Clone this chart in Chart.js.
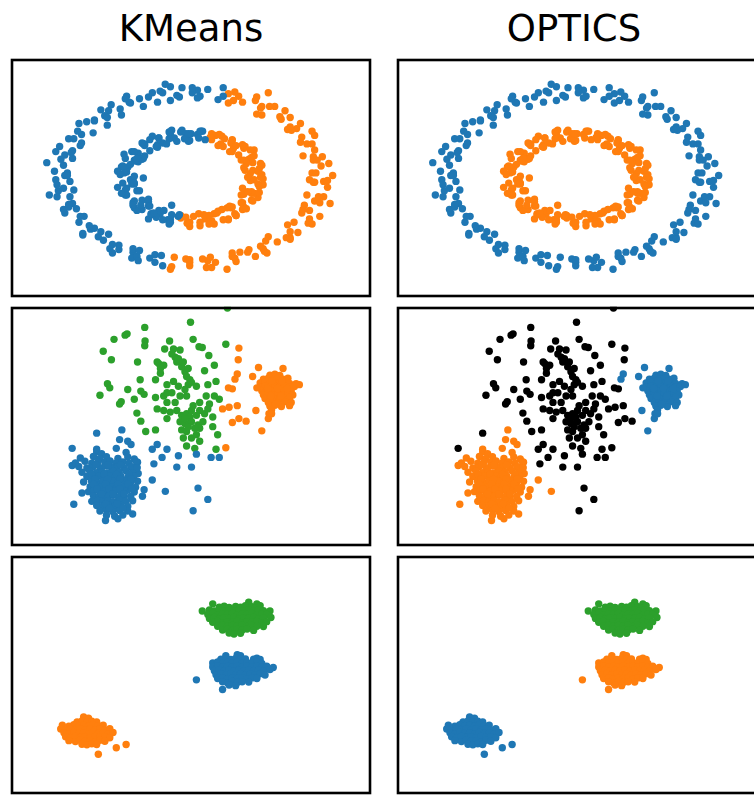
<!DOCTYPE html>
<html>
<head>
<meta charset="utf-8">
<script src="https://cdn.jsdelivr.net/npm/chart.js@4.4.1/dist/chart.umd.min.js"></script>
<style>
  html, body { margin: 0; padding: 0; background: #fff; overflow: hidden; width: 754px; height: 795px; }
  .title { position: absolute; top: 10px; width: 368px; text-align: center;
           font-family: "DejaVu Sans", sans-serif; font-size: 37px; line-height: 37px; color: #000; }
  canvas { position: absolute; }
</style>
</head>
<body>
<div class="title" style="left:7px">KMeans</div>
<div class="title" style="left:390px">OPTICS</div>
<script>
// ---- noisy circles (flat x,y pairs) ----
const ringOuterLeft = [
  0.25,1.06, 0.25,0.96, 0.13,1.04, 0.21,0.92, 0.07,0.96, 0.05,1.03,
  -0.07,1.06, 0.01,1.00, -0.09,0.95, -0.16,1.07, -0.11,0.97, -0.30,1.00, -0.24,1.02, -0.26,0.89,
  -0.40,0.93, -0.37,0.84, -0.33,0.95, -0.50,0.96, -0.47,0.88, -0.55,0.81, -0.62,0.86, -0.54,0.74,
  -0.64,0.79, -0.70,0.80, -0.65,0.62, -0.81,0.66, -0.75,0.67, -0.75,0.68, -0.85,0.51, -0.76,0.53,
  -0.88,0.55, -0.95,0.46, -0.86,0.38, -0.91,0.46, -0.98,0.27, -0.92,0.32, -1.05,0.31, -0.92,0.23,
  -0.99,0.15, -1.01,0.22, -0.96,0.06, -1.05,-0.02,
  -0.98,0.03, -0.96,0.03, -1.03,-0.15, -0.91,-0.14, -0.99,-0.12, -1.04,-0.22, -0.92,-0.30, -0.94,-0.22,
  -0.98,-0.41, -0.89,-0.36, -0.99,-0.37, -0.83,-0.45, -0.87,-0.52, -0.86,-0.45, -0.78,-0.60, -0.84,-0.67,
  -0.70,-0.63, -0.75,-0.59, -0.68,-0.73, -0.72,-0.69, -0.56,-0.84, -0.63,-0.83, -0.56,-0.79, -0.61,-0.78,
  -0.45,-0.87, -0.46,-0.94, -0.45,-0.83, -0.32,-0.94, -0.42,-0.92, -0.28,-0.90, -0.22,-1.03, -0.28,-0.99,
  0.05,0.94, 0.01,1.06, -0.16,0.91, -0.22,1.00, -0.48,0.89, -0.51,0.93, -0.67,0.73, -0.65,0.71,
  -0.87,0.64, -0.85,0.41, -1.02,0.37, -0.93,0.30, -1.06,0.08, -0.94,-0.04, -1.04,-0.08, -0.95,-0.34,
  -0.95,-0.31, -0.79,-0.56, -0.84,-0.65, -0.64,-0.66, -0.61,-0.88, -0.40,-0.85, -0.41,-0.97, -0.23,-0.91,
  -1.12,0.18, -1.10,-0.20, -0.20,1.10
];
const ringOuterRight = [
  1.03,-0.04, 0.94,0.06, 1.01,0.14, 0.97,0.06, 1.07,0.17, 0.95,0.25, 1.02,0.25, 0.87,0.26,
  0.94,0.40, 0.96,0.33, 0.90,0.40, 0.96,0.50, 0.82,0.58, 0.86,0.48, 0.78,0.56, 0.85,0.64,
  0.70,0.69, 0.77,0.60, 0.69,0.72, 0.77,0.71, 0.65,0.84, 0.55,0.74, 0.61,0.84, 0.51,0.75,
  0.50,0.91, 0.51,0.95, 0.33,0.91, 0.40,0.89, 0.29,0.88, 0.37,0.96,
  -0.16,-1.07, -0.04,-0.95, -0.13,-0.93, -0.01,-0.99, -0.01,-1.03, -0.01,-0.96, 0.16,-1.05, 0.13,-0.97,
  0.15,-0.93, 0.28,-1.07, 0.19,-0.99, 0.32,-0.92, 0.38,-0.87, 0.35,-0.98, 0.50,-0.92, 0.45,-0.84,
  0.44,-0.87, 0.59,-0.88, 0.58,-0.74, 0.57,-0.86, 0.67,-0.75, 0.60,-0.69, 0.77,-0.70, 0.74,-0.70,
  0.75,-0.55, 0.83,-0.64, 0.77,-0.63, 0.91,-0.53, 0.86,-0.41, 0.92,-0.48, 0.87,-0.37, 1.00,-0.45,
  0.92,-0.38, 0.96,-0.27, 0.90,-0.20, 1.03,-0.22, 0.99,-0.22, 0.96,-0.05, 1.06,-0.11, 0.92,-0.02,
  1.06,-0.03, 0.95,0.21, 0.98,0.21, 0.85,0.42, 0.94,0.55, 0.75,0.57, 0.73,0.79, 0.54,0.82,
  0.55,0.84, 0.34,1.01, 0.29,0.99, -0.15,-1.04, 0.09,-0.95, 0.12,-1.05, 0.32,-0.88, 0.34,-0.94,
  0.54,-0.80, 0.56,-0.83, 0.77,-0.72, 0.80,-0.52, 0.94,-0.54, 0.88,-0.32, 1.00,-0.29, 0.95,-0.05,
  1.10,0.03, 1.08,-0.30, 0.60,1.00
];
const ringInnerLeft = [
  0.11,0.45, 0.09,0.55, 0.00,0.52, 0.08,0.55, -0.01,0.44,
  0.05,0.51, -0.08,0.54, -0.02,0.43, -0.07,0.56, -0.13,0.47, -0.04,0.52, -0.15,0.56, -0.11,0.43,
  -0.25,0.47, -0.16,0.51, -0.22,0.41, -0.17,0.46, -0.30,0.49, -0.26,0.39, -0.36,0.40, -0.25,0.47,
  -0.32,0.32, -0.37,0.40, -0.27,0.37, -0.41,0.29, -0.36,0.38, -0.46,0.31, -0.38,0.22, -0.44,0.31,
  -0.37,0.23, -0.52,0.28, -0.44,0.21, -0.49,0.13, -0.43,0.20, -0.54,0.13, -0.41,0.19, -0.50,0.07,
  -0.47,0.16, -0.57,0.08, -0.45,-0.01, -0.52,0.06,
  -0.47,-0.02, -0.55,0.04, -0.44,-0.07, -0.51,-0.14, -0.45,-0.04, -0.57,-0.11, -0.46,-0.07, -0.51,-0.20,
  -0.40,-0.15, -0.50,-0.12, -0.44,-0.27, -0.50,-0.20, -0.38,-0.26, -0.44,-0.35, -0.33,-0.25, -0.45,-0.29,
  -0.38,-0.37, -0.33,-0.28, -0.42,-0.38, -0.31,-0.43, -0.33,-0.33, -0.24,-0.42, -0.33,-0.48, -0.25,-0.38,
  -0.31,-0.42, -0.18,-0.49, -0.21,-0.38, -0.22,-0.49, -0.10,-0.45, -0.17,-0.54, -0.09,-0.43, -0.16,-0.49,
  0.06,0.47, 0.07,0.55, -0.05,0.46, -0.02,0.52, -0.17,0.54, -0.19,0.40, -0.32,0.45, -0.26,0.36,
  -0.38,0.41, -0.36,0.26, -0.51,0.23, -0.42,0.23, -0.53,0.14, -0.44,0.02, -0.53,-0.06, -0.44,-0.06,
  -0.54,-0.18, -0.42,-0.15, -0.45,-0.32, -0.32,-0.33, -0.39,-0.32, -0.27,-0.46, -0.29,-0.41, -0.16,-0.52,
  -0.15,-0.43, -0.37,0.00, -0.15,-0.32
];
const ringInnerRight = [
  0.46,0.05, 0.56,-0.01, 0.49,-0.02, 0.53,0.11, 0.42,0.09, 0.54,0.17, 0.48,0.09, 0.45,0.22,
  0.55,0.15, 0.41,0.12, 0.47,0.24, 0.48,0.18, 0.37,0.27, 0.49,0.33, 0.39,0.21, 0.41,0.35,
  0.30,0.31, 0.42,0.37, 0.32,0.31, 0.40,0.39, 0.32,0.45, 0.25,0.37, 0.33,0.35, 0.26,0.46,
  0.32,0.44, 0.19,0.50, 0.23,0.40, 0.24,0.49, 0.16,0.52, 0.16,0.45, 0.15,0.48,
  -0.03,-0.53, -0.08,-0.44, -0.01,-0.57, -0.08,-0.47, 0.02,-0.45, -0.02,-0.53, 0.11,-0.48, 0.07,-0.56,
  0.06,-0.42, 0.16,-0.50, 0.07,-0.52, 0.18,-0.42, 0.18,-0.54, 0.14,-0.44, 0.29,-0.48, 0.21,-0.39,
  0.29,-0.49, 0.20,-0.41, 0.31,-0.35, 0.35,-0.44, 0.28,-0.35, 0.40,-0.37, 0.34,-0.42, 0.40,-0.29,
  0.32,-0.34, 0.47,-0.26, 0.41,-0.34, 0.39,-0.20, 0.48,-0.27, 0.39,-0.29, 0.47,-0.18, 0.52,-0.23,
  0.40,-0.12, 0.49,-0.18, 0.52,-0.07, 0.47,-0.16, 0.56,-0.08, 0.46,-0.03, 0.53,-0.10, 0.44,0.01,
  0.52,0.08, 0.55,0.04, 0.43,0.17, 0.49,0.26, 0.41,0.21, 0.46,0.33, 0.31,0.41, 0.35,0.38,
  0.21,0.38, 0.22,0.51, -0.01,-0.52, -0.04,-0.46, 0.14,-0.54, 0.10,-0.43, 0.25,-0.49, 0.24,-0.37,
  0.35,-0.44, 0.30,-0.33, 0.43,-0.36, 0.41,-0.19, 0.53,-0.17, 0.44,-0.16, 0.54,0.01
];

// ---- blobs of varied spread ----
const blobsWide = [
  1.15,3.67, 0.02,3.23, -1.38,3.07, -1.98,2.83, -1.92,2.87, -2.32,2.70, -1.37,2.65, -1.38,2.50,
  -0.62,2.65, 0.10,2.70, 0.28,2.47, 0.38,2.45, -2.65,2.33, -0.77,2.40, -0.50,2.40, -0.30,2.37,
  0.58,2.20, 1.10,2.55, -2.40,2.07, -1.60,2.00, -0.95,1.95, -0.80,1.90, -0.90,1.80, -0.45,2.15,
  -0.40,2.00, -0.25,1.85, -0.15,1.70, -0.10,1.55, 0.45,1.73, 0.75,1.90, -1.52,1.45, -1.05,1.45,
  -0.70,1.30, -0.50,1.40, -0.35,1.25, -0.05,1.30, 0.05,1.37, 0.20,1.25, 0.55,1.30, 0.80,1.40,
  -2.52,1.33, -2.45,1.20, -1.90,1.15, -1.50,1.10, -1.40,1.00, -2.75,0.97, -2.10,0.77, -2.15,0.70,
  -1.70,0.85, -1.05,0.90, -0.80,0.95, -0.70,0.75, -0.55,1.05, -0.10,0.95, 0.10,0.65, 0.30,0.75,
  0.60,0.70, 0.75,0.95, 0.90,0.85, -1.00,0.55, -0.80,0.50, -0.60,0.45, -0.40,0.50, -0.25,0.35,
  -0.10,0.40, 0.00,0.30, 0.20,0.35, 0.45,0.40, 0.55,0.55, -1.62,0.42, -1.50,0.17, -0.70,0.25,
  -0.30,0.15, -0.15,0.10, 0.05,0.15, 0.25,0.05, 0.70,0.00, -1.35,-0.15, -1.05,-0.10, -0.25,-0.10,
  -0.10,-0.15, 0.30,-0.05, 0.85,-0.25, -0.20,-0.35, 0.05,-0.35, 0.30,-0.45, -0.10,-0.60, 0.15,-0.67,
  0.80,-0.70, -0.55,2.25, -0.35,2.10, -0.20,2.00, -0.05,1.80, 0.00,1.45, -0.15,1.15, -0.30,0.95,
  0.05,0.50, 0.30,0.50, -0.15,0.25, 0.15,-0.05, -0.05,0.00, 0.50,0.95, -1.00,2.00, -0.90,1.65,
  -0.70,1.05, -0.45,0.75, 0.40,0.15, 0.70,0.30, 0.20,-0.25
];
const blobsDenseFringe = [
  -1.15,-0.70, -1.00,-0.55, -0.70,-0.70, -0.85,-0.95, -1.10,-1.15, -0.35,-0.90, -0.40,-1.25, 0.05,-1.25,
  0.20,-0.85, 0.25,-1.90, 0.55,-2.25, 0.10,-2.60, 0.65,-0.95, 0.90,-0.95, -2.85,-0.20, -3.60,-0.67
];
const blobsDenseCore = [
  -2.08,-0.10, -2.15,-0.40, -1.90,-0.45, -1.80,-0.55, -2.25,-0.67, -2.85,-0.70, -3.55,-2.40, -3.30,-2.05,
  -2.58,-2.90, -2.20,-2.85, -1.75,-2.70, -1.40,-1.95, -1.45,-2.15, -1.60,-1.10, -1.15,-1.65, -0.75,-2.00,
  -3.60,-1.20, -1.65,-1.25, -1.58,-1.45,
  -2.85,-0.78, -2.70,-0.84, -1.95,-0.80,
  -3.35,-0.97, -2.95,-0.92, -2.76,-0.99, -2.55,-0.93, -2.20,-0.98, -1.90,-0.94, -1.70,-1.00,
  -3.50,-1.12, -3.21,-1.07, -3.00,-1.13, -2.81,-1.08, -2.60,-1.11, -2.44,-1.06, -2.26,-1.12, -2.05,-1.09,
  -1.86,-1.13, -1.64,-1.08,
  -3.40,-1.23, -3.15,-1.28, -2.96,-1.24, -2.74,-1.27, -2.56,-1.22, -2.40,-1.26, -2.21,-1.23, -2.01,-1.28,
  -1.80,-1.24, -1.61,-1.27,
  -3.30,-1.41, -3.06,-1.38, -2.86,-1.42, -2.69,-1.39, -2.51,-1.43, -2.34,-1.38, -2.16,-1.41, -1.95,-1.37,
  -1.76,-1.42,
  -3.15,-1.54, -2.96,-1.57, -2.79,-1.53, -2.61,-1.56, -2.45,-1.52, -2.29,-1.57, -2.11,-1.54, -1.90,-1.58,
  -1.71,-1.53,
  -3.25,-1.71, -3.01,-1.68, -2.84,-1.72, -2.66,-1.69, -2.50,-1.73, -2.34,-1.68, -2.19,-1.71, -2.01,-1.67,
  -1.81,-1.72, -1.60,-1.69,
  -3.05,-1.86, -2.89,-1.83, -2.71,-1.87, -2.55,-1.84, -2.39,-1.88, -2.24,-1.83, -2.06,-1.86, -1.86,-1.82,
  -1.66,-1.87,
  -3.10,-2.01, -2.94,-1.98, -2.76,-2.02, -2.60,-1.99, -2.44,-2.03, -2.29,-1.98, -2.11,-2.01, -1.91,-1.97,
  -1.70,-2.02,
  -2.95,-2.14, -2.79,-2.17, -2.64,-2.13, -2.49,-2.16, -2.35,-2.12, -2.19,-2.17, -2.01,-2.14, -1.81,-2.16,
  -3.00,-2.31, -2.81,-2.28, -2.65,-2.32, -2.50,-2.29, -2.34,-2.33, -2.15,-2.28, -1.96,-2.31, -1.75,-2.29,
  -2.85,-2.44, -2.66,-2.47, -2.49,-2.43, -2.30,-2.46, -2.11,-2.44, -1.90,-2.47,
  -2.75,-2.61, -2.55,-2.58, -2.36,-2.62, -2.15,-2.59, -1.90,-2.61,
  -2.55,-2.74, -2.30,-2.77, -2.05,-2.73,
  -2.88,-1.18, -2.50,-1.18, -2.12,-1.18, -3.00,-1.48, -2.62,-1.47, -2.24,-1.48, -1.86,-1.47,
  -2.90,-1.62, -2.52,-1.63, -2.14,-1.62, -1.80,-1.62, -2.95,-1.78, -2.58,-1.77, -2.20,-1.78, -1.90,-1.77,
  -2.84,-1.93, -2.48,-1.93, -2.14,-1.92, -1.78,-1.93, -2.70,-2.08, -2.36,-2.08, -2.02,-2.07,
  -2.58,-2.38, -2.22,-2.38, -2.46,-2.52, -2.05,-2.52
];
const blobsTightFringe = [
  1.50,2.43, 1.48,2.07, 1.18,1.20, 1.30,1.17, 1.00,0.55, 1.20,0.60, 1.45,0.65, 1.50,0.25,
  1.72,0.17, 1.30,0.13, 1.10,-0.65
];
const blobsTight = [
  2.45,1.59, 2.60,1.62, 2.75,1.58,
  2.25,1.47, 2.40,1.50, 2.55,1.46, 2.70,1.49, 2.85,1.47, 3.00,1.50,
  2.15,1.35, 2.30,1.38, 2.45,1.34, 2.60,1.37, 2.75,1.35, 2.90,1.38, 3.05,1.34, 3.25,1.33,
  2.15,1.23, 2.30,1.26, 2.45,1.22, 2.60,1.25, 2.75,1.23, 2.90,1.26, 3.05,1.22, 3.20,1.24,
  2.20,1.11, 2.35,1.14, 2.50,1.10, 2.65,1.13, 2.80,1.11, 2.95,1.14, 3.10,1.10,
  2.25,0.99, 2.40,1.02, 2.55,0.98, 2.70,1.01, 2.85,0.99, 3.00,1.02, 3.15,0.98,
  2.30,0.87, 2.45,0.90, 2.60,0.86, 2.75,0.89, 2.90,0.87, 3.05,0.90,
  2.40,0.75, 2.55,0.78, 2.70,0.74, 2.90,0.77, 3.10,0.75,
  2.45,0.63, 2.60,0.66, 2.80,0.62, 3.05,0.65, 2.50,0.52, 2.42,0.40,
  2.52,1.42, 2.82,1.42, 2.38,1.18, 2.68,1.18, 2.98,1.18, 2.48,0.94, 2.78,0.94, 2.62,0.70,
  2.10,1.83, 2.85,1.80, 1.45,1.63, 1.38,1.47, 1.92,1.55, 2.02,0.50, 2.20,-0.13, 2.40,0.25,
  2.50,0.40, 2.05,1.20, 3.35,1.30
];

// ---- anisotropic blobs ----
const blobTop = [
  0.70,2.20, 1.80,2.25, 2.05,2.20, 2.15,2.14,
  0.90,2.10, 1.05,2.13, 1.20,2.09, 1.40,2.12, 1.55,2.10, 1.70,2.14, 1.90,2.11, 2.00,2.08,
  0.38,1.98, 0.60,2.01, 0.75,1.98, 0.90,2.02, 1.05,1.99, 1.20,2.01, 1.35,1.98, 1.50,2.02,
  1.65,1.99, 1.80,2.01, 1.95,1.98, 2.10,2.02, 2.25,1.99, 2.45,1.98,
  0.55,1.87, 0.70,1.90, 0.85,1.86, 1.00,1.89, 1.15,1.87, 1.30,1.90, 1.45,1.86, 1.60,1.89,
  1.75,1.87, 1.90,1.90, 2.05,1.86, 2.20,1.89, 2.35,1.87,
  0.60,1.75, 0.75,1.78, 0.90,1.74, 1.05,1.77, 1.20,1.75, 1.35,1.78, 1.50,1.74, 1.65,1.77,
  1.80,1.75, 1.95,1.78, 2.10,1.74, 2.25,1.77, 2.48,1.78,
  0.70,1.63, 0.85,1.66, 1.00,1.62, 1.15,1.65, 1.30,1.63, 1.45,1.66, 1.60,1.62, 1.75,1.65,
  1.90,1.63, 2.05,1.66, 2.20,1.62, 2.35,1.65,
  0.85,1.51, 1.00,1.54, 1.15,1.50, 1.30,1.53, 1.45,1.51, 1.60,1.54, 1.75,1.50, 1.90,1.53,
  2.05,1.51, 2.25,1.50,
  1.00,1.39, 1.15,1.42, 1.30,1.38, 1.45,1.41, 1.60,1.39, 1.75,1.42, 1.95,1.38,
  1.20,1.30, 1.35,1.27, 1.55,1.29
];
const blobMid = [
  1.10,0.60, 1.45,0.63, 1.55,0.60,
  0.95,0.49, 1.10,0.52, 1.25,0.48, 1.40,0.51, 1.55,0.49, 1.70,0.50, 1.95,0.49, 2.05,0.52, 2.15,0.48,
  0.70,0.37, 0.85,0.40, 1.00,0.36, 1.15,0.39, 1.30,0.37, 1.45,0.40, 1.60,0.36, 1.75,0.39,
  1.90,0.37, 2.05,0.40, 2.20,0.36,
  0.70,0.25, 0.85,0.28, 1.00,0.24, 1.15,0.27, 1.30,0.25, 1.45,0.28, 1.60,0.24, 1.75,0.27,
  1.90,0.25, 2.05,0.28, 2.20,0.24, 2.35,0.27, 2.55,0.23,
  0.75,0.13, 0.90,0.16, 1.05,0.12, 1.20,0.15, 1.35,0.13, 1.50,0.16, 1.65,0.12, 1.80,0.15,
  1.95,0.13, 2.10,0.16, 2.25,0.12, 2.45,0.17,
  0.80,0.01, 0.95,0.04, 1.10,0.00, 1.25,0.03, 1.40,0.01, 1.55,0.04, 1.70,0.00, 1.85,0.03,
  2.00,0.01, 2.15,0.04, 2.30,0.00,
  0.85,-0.11, 1.00,-0.08, 1.15,-0.12, 1.30,-0.09, 1.45,-0.11, 1.60,-0.08, 1.75,-0.12, 1.90,-0.09,
  2.05,-0.11,
  1.00,-0.21, 1.15,-0.24, 1.30,-0.20, 1.45,-0.23, 1.60,-0.21, 1.80,-0.22,
  1.20,-0.31, 1.40,-0.33, 0.20,-0.15, 1.00,-0.45
];
const blobLow = [
  -3.25,-1.30, -3.10,-1.34,
  -3.45,-1.45, -3.30,-1.42, -3.15,-1.46, -3.00,-1.43, -2.85,-1.45,
  -3.90,-1.55, -3.70,-1.58, -3.55,-1.54, -3.40,-1.57, -3.25,-1.55, -3.10,-1.58, -2.95,-1.54,
  -2.80,-1.57, -2.65,-1.55,
  -3.95,-1.67, -3.80,-1.70, -3.65,-1.66, -3.50,-1.69, -3.35,-1.67, -3.20,-1.70, -3.05,-1.66,
  -2.90,-1.69, -2.75,-1.67, -2.60,-1.70, -2.45,-1.66,
  -3.85,-1.79, -3.70,-1.82, -3.55,-1.78, -3.40,-1.81, -3.25,-1.79, -3.10,-1.82, -2.95,-1.78,
  -2.80,-1.81, -2.65,-1.79, -2.50,-1.82, -2.35,-1.78,
  -3.80,-1.91, -3.65,-1.94, -3.50,-1.90, -3.35,-1.93, -3.20,-1.91, -3.05,-1.94, -2.90,-1.90,
  -2.75,-1.93, -2.60,-1.91, -2.45,-1.94,
  -3.70,-2.03, -3.50,-2.06, -3.35,-2.02, -3.20,-2.05, -3.05,-2.03, -2.90,-2.06, -2.75,-2.02,
  -2.60,-2.05,
  -3.30,-2.14, -3.15,-2.16, -3.00,-2.13, -2.85,-2.15,
  -2.25,-2.25, -1.95,-2.15, -2.80,-2.45
];

// axis limits for each row of panels
const rowLimits = [
  { x: [-1.40, 1.40], y: [-1.40, 1.40] },
  { x: [-5.48, 5.55], y: [-3.70, 3.71] },
  { x: [-5.48, 5.55], y: [-3.69, 3.69] }
];

const BLUE = '#1f77b4', ORANGE = '#ff7f0e', GREEN = '#2ca02c', BLACK = '#000000';

// cluster colouring per algorithm: [row][column] -> list of [points, colour]
const panelGroups = [
  [
    [[ringOuterLeft, BLUE], [ringInnerLeft, BLUE], [ringOuterRight, ORANGE], [ringInnerRight, ORANGE]],
    [[ringOuterLeft, BLUE], [ringOuterRight, BLUE], [ringInnerLeft, ORANGE], [ringInnerRight, ORANGE]]
  ],
  [
    [[blobsDenseCore, BLUE], [blobsDenseFringe, BLUE], [blobsTight, ORANGE], [blobsTightFringe, ORANGE], [blobsWide, GREEN]],
    [[blobsDenseCore, ORANGE], [blobsTight, BLUE], [blobsWide, BLACK], [blobsDenseFringe, BLACK], [blobsTightFringe, BLACK]]
  ],
  [
    [[blobTop, GREEN], [blobMid, BLUE], [blobLow, ORANGE]],
    [[blobTop, GREEN], [blobMid, ORANGE], [blobLow, BLUE]]
  ]
];

// panel placement
const colLeft = [7, 393];
const rowBox = [{ top: 55, height: 246 }, { top: 303, height: 247 }, { top: 552, height: 246 }];
const PANEL_W = 368;
const MARKER_R = 3.7;

function toPoints(flat) {
  const pts = [];
  for (let i = 0; i < flat.length; i += 2) pts.push({ x: flat[i], y: flat[i + 1] });
  return pts;
}

const framePlugin = {
  id: 'frame',
  afterDraw(chart) {
    const { ctx, chartArea: a } = chart;
    ctx.save();
    ctx.strokeStyle = '#000';
    ctx.lineWidth = 2.6;
    ctx.strokeRect(a.left + 1.3, a.top + 1.3, a.right - a.left - 2.6, a.bottom - a.top - 2.6);
    ctx.restore();
  }
};

rowBox.forEach((rb, r) => {
  colLeft.forEach((left, c) => {
    const cv = document.createElement('canvas');
    cv.width = PANEL_W;
    cv.height = rb.height;
    cv.style.left = left + 'px';
    cv.style.top = rb.top + 'px';
    cv.style.width = PANEL_W + 'px';
    cv.style.height = rb.height + 'px';
    document.body.appendChild(cv);

    const lim = rowLimits[r];
    new Chart(cv.getContext('2d'), {
      type: 'scatter',
      data: {
        datasets: panelGroups[r][c].map(([pts, col]) => ({
          data: toPoints(pts),
          backgroundColor: col,
          borderWidth: 0,
          pointRadius: MARKER_R,
          pointHoverRadius: MARKER_R
        }))
      },
      options: {
        responsive: false,
        animation: false,
        devicePixelRatio: 1,
        events: [],
        layout: { padding: 0 },
        plugins: { legend: { display: false }, tooltip: { enabled: false }, title: { display: false } },
        scales: {
          x: { type: 'linear', min: lim.x[0], max: lim.x[1], display: false },
          y: { type: 'linear', min: lim.y[0], max: lim.y[1], display: false }
        }
      },
      plugins: [framePlugin]
    });
  });
});
</script>
</body>
</html>
